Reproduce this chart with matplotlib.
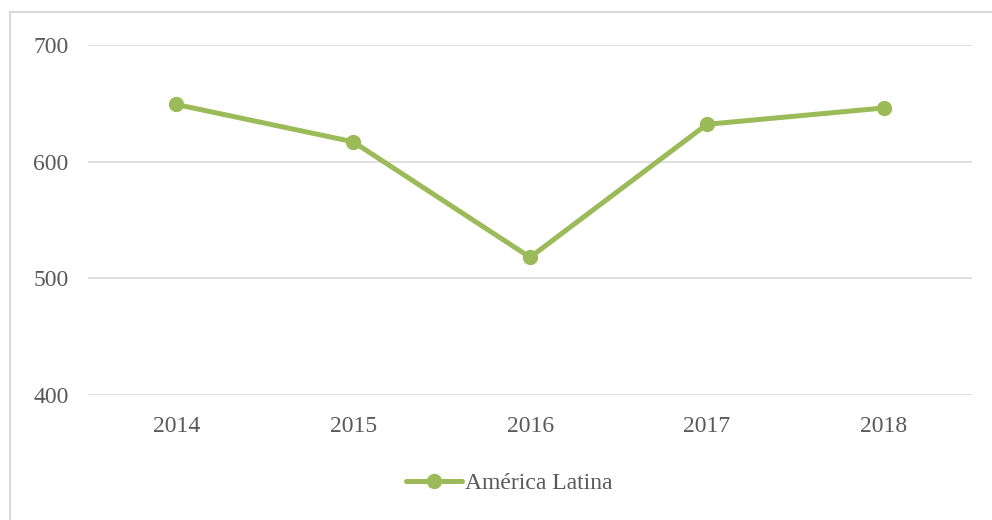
import matplotlib.pyplot as plt
from matplotlib.patches import Rectangle

years = ['2014', '2015', '2016', '2017', '2018']
valores = [649, 617, 518, 632, 646]
serie = 'América Latina'

plt.rcParams['font.family'] = ['Liberation Serif', 'DejaVu Serif']

fig = plt.figure(figsize=(9.92, 5.2), dpi=100)
ax = fig.add_axes([0.0887, 0.2404, 0.8913, 0.6731])

# borde del grafico
fig.patches.append(Rectangle((10/992, -0.1), 1.2, 1 - 12/520 + 0.1, transform=fig.transFigure,
                             fill=False, edgecolor='#d9d9d9', linewidth=1.5))

x = list(range(len(years)))
ax.plot(x, valores, color='#9bbb59', linewidth=3.6, marker='o', markersize=10,
        label=serie, solid_capstyle='round')

ax.set_xlim(-0.5, len(years) - 0.5)
ax.set_ylim(400, 700)
ax.set_yticks([400, 500, 600, 700])
ax.set_xticks(x)
ax.set_xticklabels(years)
ax.grid(axis='y', color='#d9d9d9', linewidth=1.2)
ax.set_axisbelow(True)
for s in ax.spines.values():
    s.set_visible(False)
ax.tick_params(length=0, labelsize=17, colors='#595959')
ax.tick_params(axis='y', pad=14)
ax.tick_params(axis='x', pad=15)

leg = fig.legend(loc='center', bbox_to_anchor=(0.513, 0.071), frameon=False, fontsize=17,
                 handlelength=2.4, handletextpad=0.1)
for t in leg.get_texts():
    t.set_color('#595959')

fig.savefig('out.png', dpi=100)
